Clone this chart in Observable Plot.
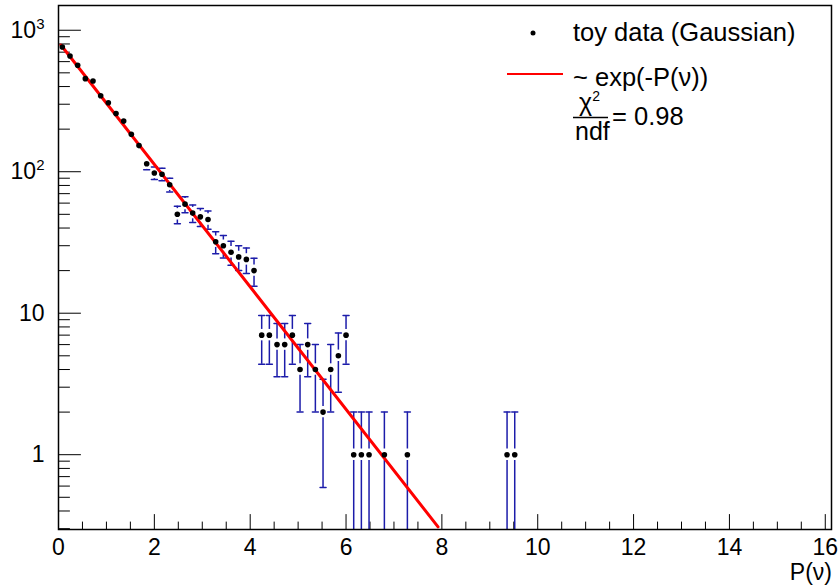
<!DOCTYPE html>
<html>
<head>
<meta charset="utf-8">
<script src="https://cdn.jsdelivr.net/npm/d3@7"></script>
<script src="https://cdn.jsdelivr.net/npm/@observablehq/plot@0.6"></script>
<style>
  html, body { margin: 0; padding: 0; background: #fff; }
  #wrap { position: relative; width: 838px; height: 587px; font-family: "Liberation Sans", Arial, sans-serif; }
  #chart svg { display: block; }
  #overlay { position: absolute; left: 0; top: 0; pointer-events: none; }
</style>
</head>
<body>
<div id="wrap">
  <div id="chart"></div>
  <svg id="overlay" width="838" height="587" font-family="'Liberation Sans', Arial, sans-serif">
    <circle cx="533" cy="33" r="2.5" fill="#000"></circle>
    <text x="573" y="41" font-size="25.5">toy data (Gaussian)</text>
    <line x1="507" x2="563" y1="74" y2="74" stroke="#ff0000" stroke-width="2"></line>
    <text x="573" y="86" font-size="25.5">~ exp(-P(ν))</text>
    <text x="579" y="111" font-size="25">χ<tspan font-size="14" dy="-10">2</tspan></text>
    <line x1="573" x2="608" y1="117.5" y2="117.5" stroke="#000" stroke-width="1.5"></line>
    <text x="575" y="140" font-size="25">ndf</text>
    <text x="612" y="125" font-size="25.5">= 0.98</text>
    <text x="832" y="580" font-size="23" text-anchor="end">P(ν)</text>
  </svg>
</div>
<script>
// ---- data (bin centres and counts; empty bins omitted) ----
const binCenters = [0.08, 0.24, 0.40, 0.56, 0.72, 0.88, 1.04, 1.20, 1.36, 1.52,
                    1.68, 1.84, 2.00, 2.16, 2.32, 2.48, 2.64, 2.80, 2.96, 3.12,
                    3.28, 3.44, 3.60, 3.76, 3.92, 4.08, 4.24, 4.40, 4.56, 4.72,
                    4.88, 5.04, 5.20, 5.36, 5.52, 5.68, 5.84, 6.00, 6.16, 6.32,
                    6.48, 6.80, 7.28, 9.36, 9.52];
const counts = [762, 658, 566, 455, 438, 344, 307, 258, 228, 184,
                153, 114, 98, 96, 81, 50, 59, 51, 48, 46,
                32, 30, 27, 25, 24, 20, 7, 7, 6, 6,
                7, 4, 6, 4, 2, 4, 5, 7, 1, 1,
                1, 1, 1, 1, 1];
// fitted ~exp(-P) curve: straight on the log axis, end points
const fitX = [0.05, 7.92];
const fitY = [786, 0.309];

// axis ticks and labels
const xMajorTicks = [0, 2, 4, 6, 8, 10, 12, 14, 16];
const xMinorTicks = [0.5, 1, 1.5, 2.5, 3, 3.5, 4.5, 5, 5.5, 6.5, 7, 7.5,
                     8.5, 9, 9.5, 10.5, 11, 11.5, 12.5, 13, 13.5, 14.5, 15, 15.5];
const yMajorTicks = [1, 10, 100, 1000];
const yTickLabels = ["1", "10", "10^2", "10^3"];
const yMinorTicks = [0.3, 0.4, 0.5, 0.6, 0.7, 0.8, 0.9,
                     2, 3, 4, 5, 6, 7, 8, 9,
                     20, 30, 40, 50, 60, 70, 80, 90,
                     200, 300, 400, 500, 600, 700, 800, 900];

// ---- layout ----
const W = 838, H = 587;
const M = {left: 58, right: 7, top: 5, bottom: 58};
const xDomain = [0, 16.13];
const yDomain = [0.296, 1496];
const GAP = 5.7; // px: error bars are not drawn inside the marker (ROOT style)

// ---- build ----
const hist = binCenters.map((x, i) => ({x, n: counts[i], e: Math.sqrt(counts[i])})); // Poisson errors as drawn
const fit = fitX.map((x, i) => ({x, y: fitY[i]}));
const yLabel = new Map(yMajorTicks.map((v, i) => [v, yTickLabels[i]]));

// same y scale as the plot, used to leave the marker gap in the error bars
const ys = Plot.scale({y: {type: "log", domain: yDomain, range: [H - M.bottom, M.top]}});
const py = v => ys.apply(v);
const upper = hist
  .filter(d => py(d.n) - py(d.n + d.e) > GAP)
  .map(d => ({x: d.x, from: ys.invert(py(d.n) - GAP), to: d.n + d.e}));
const lower = hist
  .filter(d => d.n - d.e <= 0 || py(d.n - d.e) - py(d.n) > GAP)
  .map(d => ({x: d.x, from: ys.invert(py(d.n) + GAP), to: Math.max(d.n - d.e, 1e-3)}));

const seg = {draw(ctx, l) { ctx.moveTo(0, 0); ctx.lineTo(0, -l); }};
const errBlue = "#1c1caa";

const chart = Plot.plot({
  width: W,
  height: H,
  marginLeft: M.left,
  marginRight: M.right,
  marginTop: M.top,
  marginBottom: M.bottom,
  x: {type: "linear", domain: xDomain},
  y: {type: "log", domain: yDomain},
  style: {fontFamily: "'Liberation Sans', Arial, sans-serif", fontSize: "23px", background: "#fff", color: "#000"},
  marks: [
    // inward ticks (ROOT style)
    Plot.vector(xMajorTicks, {x: d => d, frameAnchor: "bottom", anchor: "start", rotate: 0, length: 15, shape: seg, stroke: "#000", strokeWidth: 1}),
    Plot.vector(xMinorTicks, {x: d => d, frameAnchor: "bottom", anchor: "start", rotate: 0, length: 7.5, shape: seg, stroke: "#000", strokeWidth: 1}),
    Plot.vector(yMajorTicks, {y: d => d, frameAnchor: "left", anchor: "start", rotate: 90, length: 22, shape: seg, stroke: "#000", strokeWidth: 1}),
    Plot.vector(yMinorTicks, {y: d => d, frameAnchor: "left", anchor: "start", rotate: 90, length: 11, shape: seg, stroke: "#000", strokeWidth: 1}),
    Plot.axisX(xMajorTicks, {tickSize: 0, tickPadding: 9, fontSize: 23, tickFormat: d => String(d), label: null}),
    Plot.axisY(yMajorTicks, {tickSize: 0, tickPadding: 14, fontSize: 23, tickFormat: d => yLabel.get(d), label: null}),
    // error bars (upper and lower halves with end caps)
    Plot.ruleX(upper, {x: "x", y1: "from", y2: "to", stroke: errBlue, strokeWidth: 1.5, clip: true}),
    Plot.ruleX(lower, {x: "x", y1: "from", y2: "to", stroke: errBlue, strokeWidth: 1.5, clip: true}),
    Plot.vector(upper, {x: "x", y: "to", anchor: "middle", rotate: 90, length: 6, shape: seg, stroke: errBlue, strokeWidth: 1.5, clip: true}),
    Plot.vector(lower, {x: "x", y: "to", anchor: "middle", rotate: 90, length: 6, shape: seg, stroke: errBlue, strokeWidth: 1.5, clip: true}),
    // fit
    Plot.line(fit, {x: "x", y: "y", stroke: "#ff0000", strokeWidth: 3, clip: true}),
    // data points
    Plot.dot(hist, {x: "x", y: "n", r: 2.8, fill: "#000", stroke: "none"}),
    Plot.frame({stroke: "#000", strokeWidth: 1.5})
  ]
});

// superscripts for the log-axis labels (10^2, 10^3)
chart.querySelectorAll('g[aria-label="y-axis tick label"] text').forEach(el => {
  const t = el.textContent;
  if (t.includes("^")) {
    const [base, exp] = t.split("^");
    el.textContent = base;
    const ts = document.createElementNS("http://www.w3.org/2000/svg", "tspan");
    ts.setAttribute("font-size", "15");
    ts.setAttribute("dy", "-9");
    ts.textContent = exp;
    el.appendChild(ts);
  }
});

document.getElementById("chart").appendChild(chart);
</script>
</body>
</html>
